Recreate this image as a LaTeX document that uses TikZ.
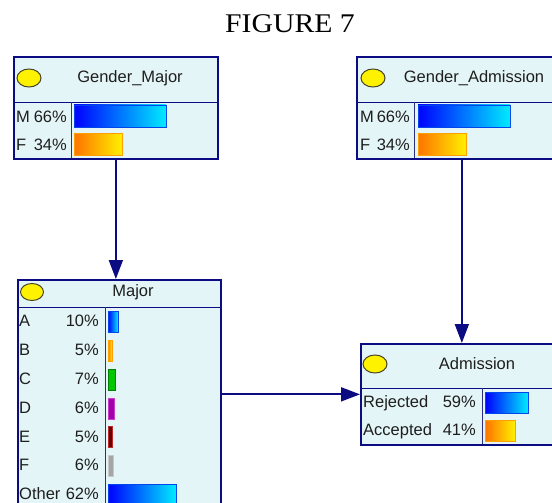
\documentclass[tikz,border=0pt]{standalone}
\usepackage{fontspec}
\setmainfont{Liberation Sans}
\newfontfamily\titlefont{Liberation Serif}
\usetikzlibrary{arrows.meta,shadows}
\definecolor{navy}{RGB}{12,12,130}
\definecolor{boxfill}{RGB}{228,245,247}
\definecolor{txt}{RGB}{30,30,30}
\definecolor{ellline}{RGB}{70,70,40}
\tikzset{
  box/.style={draw=navy, line width=1.7pt, fill=boxfill, inner sep=0pt, outer sep=0.85pt, anchor=north west,
    drop shadow={shadow xshift=1.4pt, shadow yshift=-1.4pt, fill=black!30, opacity=1}},
  divider/.style={draw=navy, line width=0.9pt},
  coldiv/.style={draw=navy!70!gray, line width=0.9pt},
  lamp/.style={fill=yellow, draw=ellline, line width=1pt},
  ttl/.style={font=\fontsize{16.5}{18}\selectfont, text=txt, inner sep=0pt},
  lbl/.style={font=\fontsize{16.5}{18}\selectfont, text=txt, inner sep=0pt, anchor=base west},
  pct/.style={font=\fontsize{16.5}{18}\selectfont, text=txt, inner sep=0pt, anchor=base east},
  bluebar/.style={left color={rgb,255:red,0;green,0;blue,255}, right color={rgb,255:red,0;green,235;blue,255}, draw={rgb,255:red,0;green,70;blue,235}, line width=0.8pt},
  orangebar/.style={left color={rgb,255:red,255;green,115;blue,0}, right color={rgb,255:red,255;green,240;blue,0}, draw={rgb,255:red,255;green,160;blue,0}, line width=0.8pt},
  greenbar/.style={fill={rgb,255:red,0;green,200;blue,0}, draw={rgb,255:red,0;green,130;blue,0}, line width=0.8pt},
  purplebar/.style={fill={rgb,255:red,165;green,0;blue,175}, draw={rgb,255:red,200;green,60;blue,200}, line width=0.8pt},
  redbar/.style={fill={rgb,255:red,100;green,0;blue,0}, draw={rgb,255:red,190;green,40;blue,40}, line width=0.8pt},
  graybar/.style={fill={rgb,255:red,165;green,165;blue,165}, draw={rgb,255:red,200;green,200;blue,200}, line width=0.8pt},
  conn/.style={draw=navy, line width=1.8pt, -{Triangle[length=19pt,width=14pt]}},
}
\begin{document}
\begin{tikzpicture}[x=1pt,y=-1pt]
\useasboundingbox (0,0) rectangle (552,503);
\clip (0,0) rectangle (552,503);
\fill[white] (0,0) rectangle (552,503);

% title
\node[inner sep=0pt, text=black] (fig) at (290,24) {\scalebox{1.1}[1]{\titlefont\fontsize{27}{30}\selectfont FIGURE 7}};

% boxes
\node[box, minimum width=204pt, minimum height=102pt] (gm) at (13,56) {};
\node[box, minimum width=210pt, minimum height=102pt] (ga) at (356,56) {};
\node[box, minimum width=203pt, minimum height=250pt] (mj) at (17,279) {};
\node[box, minimum width=202pt, minimum height=101pt] (ad) at (360,343) {};

% ---- Gender_Major
\draw[divider] (13,102) -- (217,102);
\draw[coldiv] (71,102) -- (71,158);
\path[lamp] (29,78) ellipse [x radius=12pt, y radius=9pt];
\node[ttl] (gmt) at (130,78) {Gender\_Major};
\node[lbl] (gmm) at (16,122) {M};
\node[pct] (gmmp) at (67,122) {66\%};
\node[lbl] (gmf) at (16,150) {F};
\node[pct] (gmfp) at (67,150) {34\%};
\shadedraw[bluebar] (74,105) rectangle (166,127);
\shadedraw[orangebar] (74,133) rectangle (122,155);

% ---- Gender_Admission
\draw[divider] (356,102) -- (566,102);
\draw[coldiv] (414,102) -- (414,158);
\path[lamp] (373,78) ellipse [x radius=12pt, y radius=9pt];
\node[ttl] (gat) at (474,78) {Gender\_Admission};
\node[lbl] (gam) at (360,122) {M};
\node[pct] (gamp) at (410,122) {66\%};
\node[lbl] (gaf) at (360,150) {F};
\node[pct] (gafp) at (410,150) {34\%};
\shadedraw[bluebar] (418,105) rectangle (510,127);
\shadedraw[orangebar] (418,133) rectangle (466,155);

% ---- Major
\draw[divider] (17,307) -- (220,307);
\draw[coldiv] (105,307) -- (105,520);
\path[lamp] (32,292) ellipse [x radius=11.5pt, y radius=8.5pt];
\node[ttl] (mjt) at (133,292) {Major};
\node[lbl] (ma) at (19,326) {A};     \node[pct] (map) at (99,326) {10\%};
\node[lbl] (mb) at (19,355.5) {B};   \node[pct] (mbp) at (99,355.5) {5\%};
\node[lbl] (mc) at (19,384) {C};     \node[pct] (mcp) at (99,384) {7\%};
\node[lbl] (md) at (19,413) {D};     \node[pct] (mdp) at (99,413) {6\%};
\node[lbl] (me) at (19,442) {E};     \node[pct] (mep) at (99,442) {5\%};
\node[lbl] (mf) at (19,470.5) {F};   \node[pct] (mfp) at (99,470.5) {6\%};
\node[lbl] (mo) at (19,499) {Other}; \node[pct] (mop) at (99,499) {62\%};
\shadedraw[bluebar] (108,311) rectangle (118,332);
\shadedraw[orangebar] (108,340) rectangle (112,361);
\path[greenbar] (108,369) rectangle (115,390);
\path[purplebar] (108,398) rectangle (114,419);
\path[redbar] (108,426) rectangle (112,447);
\path[graybar] (108,455) rectangle (113,476);
\shadedraw[bluebar] (108,484) rectangle (176,506);

% ---- Admission
\draw[divider] (360,388) -- (562,388);
\draw[coldiv] (482,388) -- (482,444);
\path[lamp] (375,364) ellipse [x radius=12pt, y radius=9pt];
\node[ttl] (adt) at (477,364) {Admission};
\node[lbl] (adr) at (363,407) {Rejected};
\node[pct] (adrp) at (476,407) {59\%};
\node[lbl] (ada) at (363,435) {Accepted};
\node[pct] (adap) at (476,435) {41\%};
\shadedraw[bluebar] (485,392) rectangle (528,413);
\shadedraw[orangebar] (485,420) rectangle (515,441);

% ---- connectors
\draw[conn] (gm.south) -- (gm.south |- mj.north);
\draw[conn] (ga.south) -- (ga.south |- ad.north);
\draw[conn] (ad.west -| mj.east) -- (ad.west);
\end{tikzpicture}
\end{document}
